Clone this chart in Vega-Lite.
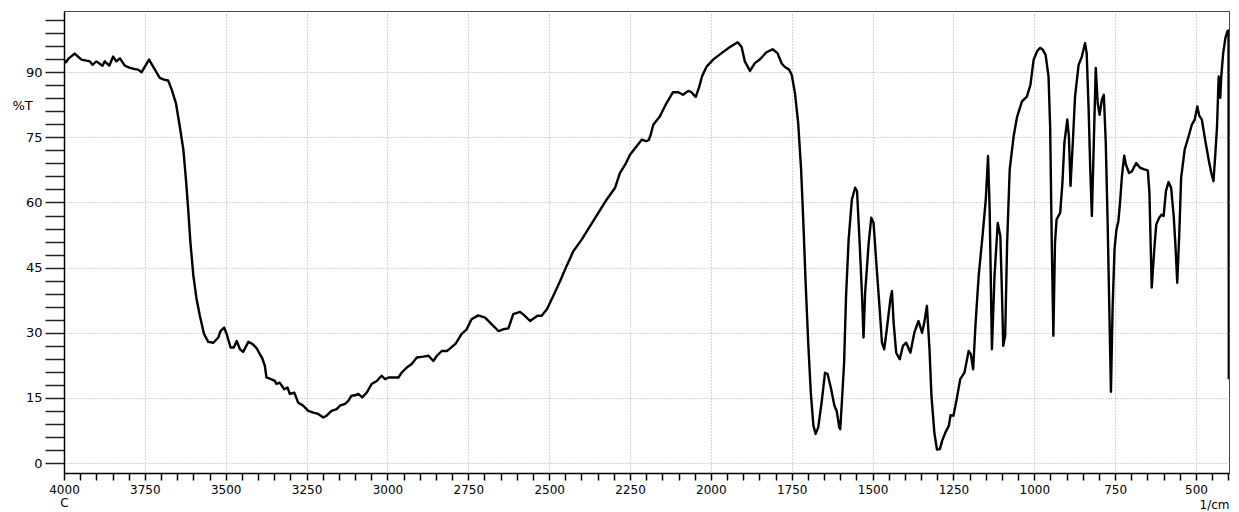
{
  "$schema": "https://vega.github.io/schema/vega-lite/v6.json",
  "autosize": {"type": "none"},
  "padding": {"left": 64, "top": 11, "right": 10, "bottom": 39},
  "width": 1165,
  "height": 462,
  "background": "white",
  "config": {"view": {"stroke": "#444", "strokeWidth": 1}, "font": "DejaVu Sans"},
  "data": {"values": [
    {"wn": 4000, "t": 92.9}, {"wn": 3994, "t": 92.3}, {"wn": 3985, "t": 93.2}, {"wn": 3967, "t": 94.3}, {"wn": 3946, "t": 92.9},
    {"wn": 3920, "t": 92.5}, {"wn": 3912, "t": 91.7}, {"wn": 3900, "t": 92.5}, {"wn": 3881, "t": 91.5}, {"wn": 3874, "t": 92.5},
    {"wn": 3860, "t": 91.5}, {"wn": 3848, "t": 93.6}, {"wn": 3838, "t": 92.5}, {"wn": 3827, "t": 93.2}, {"wn": 3812, "t": 91.5},
    {"wn": 3796, "t": 91.0}, {"wn": 3781, "t": 90.7}, {"wn": 3771, "t": 90.6}, {"wn": 3760, "t": 90.0}, {"wn": 3737, "t": 92.9},
    {"wn": 3719, "t": 90.6}, {"wn": 3704, "t": 88.7}, {"wn": 3691, "t": 88.3}, {"wn": 3678, "t": 88.1}, {"wn": 3667, "t": 86.0},
    {"wn": 3654, "t": 82.9}, {"wn": 3642, "t": 77.5}, {"wn": 3631, "t": 72.2}, {"wn": 3623, "t": 65.3}, {"wn": 3616, "t": 58.4},
    {"wn": 3609, "t": 50.7}, {"wn": 3600, "t": 43.1}, {"wn": 3590, "t": 37.7}, {"wn": 3580, "t": 33.9}, {"wn": 3567, "t": 29.7},
    {"wn": 3554, "t": 27.9}, {"wn": 3538, "t": 27.7}, {"wn": 3523, "t": 28.9}, {"wn": 3516, "t": 30.4}, {"wn": 3505, "t": 31.2},
    {"wn": 3497, "t": 29.7}, {"wn": 3485, "t": 26.6}, {"wn": 3475, "t": 26.6}, {"wn": 3466, "t": 28.1}, {"wn": 3456, "t": 26.2},
    {"wn": 3446, "t": 25.6}, {"wn": 3430, "t": 27.9}, {"wn": 3417, "t": 27.4}, {"wn": 3404, "t": 26.4}, {"wn": 3394, "t": 25.0},
    {"wn": 3388, "t": 24.3}, {"wn": 3379, "t": 22.4}, {"wn": 3374, "t": 19.7}, {"wn": 3360, "t": 19.3}, {"wn": 3348, "t": 18.9},
    {"wn": 3343, "t": 18.2}, {"wn": 3333, "t": 18.5}, {"wn": 3319, "t": 17.0}, {"wn": 3309, "t": 17.4}, {"wn": 3302, "t": 15.9},
    {"wn": 3288, "t": 16.2}, {"wn": 3276, "t": 13.9}, {"wn": 3260, "t": 13.2}, {"wn": 3245, "t": 12.0}, {"wn": 3229, "t": 11.6},
    {"wn": 3214, "t": 11.3}, {"wn": 3198, "t": 10.5}, {"wn": 3188, "t": 10.9}, {"wn": 3173, "t": 12.0}, {"wn": 3157, "t": 12.4},
    {"wn": 3147, "t": 13.2}, {"wn": 3131, "t": 13.6}, {"wn": 3121, "t": 14.3}, {"wn": 3111, "t": 15.5}, {"wn": 3100, "t": 15.6},
    {"wn": 3090, "t": 15.9}, {"wn": 3078, "t": 15.1}, {"wn": 3064, "t": 16.2}, {"wn": 3049, "t": 18.2}, {"wn": 3033, "t": 18.9},
    {"wn": 3018, "t": 20.1}, {"wn": 3007, "t": 19.3}, {"wn": 2997, "t": 19.7}, {"wn": 2966, "t": 19.7}, {"wn": 2956, "t": 20.8},
    {"wn": 2940, "t": 22.0}, {"wn": 2925, "t": 22.8}, {"wn": 2909, "t": 24.3}, {"wn": 2889, "t": 24.5}, {"wn": 2873, "t": 24.7},
    {"wn": 2858, "t": 23.5}, {"wn": 2847, "t": 24.7}, {"wn": 2832, "t": 25.8}, {"wn": 2816, "t": 25.8}, {"wn": 2806, "t": 26.4},
    {"wn": 2789, "t": 27.5}, {"wn": 2771, "t": 29.7}, {"wn": 2755, "t": 30.8}, {"wn": 2740, "t": 33.1}, {"wn": 2719, "t": 34.0},
    {"wn": 2698, "t": 33.5}, {"wn": 2678, "t": 32.0}, {"wn": 2657, "t": 30.4}, {"wn": 2642, "t": 30.8}, {"wn": 2626, "t": 31.0},
    {"wn": 2611, "t": 34.3}, {"wn": 2590, "t": 34.8}, {"wn": 2575, "t": 33.9}, {"wn": 2559, "t": 32.7}, {"wn": 2536, "t": 33.9},
    {"wn": 2523, "t": 33.9}, {"wn": 2507, "t": 35.4}, {"wn": 2487, "t": 38.5}, {"wn": 2466, "t": 41.9}, {"wn": 2446, "t": 45.4},
    {"wn": 2425, "t": 48.8}, {"wn": 2399, "t": 51.5}, {"wn": 2373, "t": 54.6}, {"wn": 2348, "t": 57.6}, {"wn": 2322, "t": 60.7},
    {"wn": 2296, "t": 63.4}, {"wn": 2281, "t": 66.8}, {"wn": 2265, "t": 68.7}, {"wn": 2250, "t": 71.0}, {"wn": 2229, "t": 73.0},
    {"wn": 2213, "t": 74.5}, {"wn": 2200, "t": 74.1}, {"wn": 2192, "t": 74.4}, {"wn": 2186, "t": 75.6}, {"wn": 2178, "t": 77.9},
    {"wn": 2158, "t": 79.8}, {"wn": 2137, "t": 82.9}, {"wn": 2117, "t": 85.4}, {"wn": 2101, "t": 85.4}, {"wn": 2086, "t": 84.8},
    {"wn": 2070, "t": 85.7}, {"wn": 2060, "t": 85.4}, {"wn": 2047, "t": 84.3}, {"wn": 2037, "t": 86.4}, {"wn": 2027, "t": 89.1},
    {"wn": 2013, "t": 91.3}, {"wn": 1993, "t": 92.9}, {"wn": 1967, "t": 94.4}, {"wn": 1941, "t": 95.8}, {"wn": 1917, "t": 96.9},
    {"wn": 1905, "t": 95.8}, {"wn": 1895, "t": 92.5}, {"wn": 1879, "t": 90.3}, {"wn": 1864, "t": 92.1}, {"wn": 1848, "t": 93.0},
    {"wn": 1828, "t": 94.6}, {"wn": 1809, "t": 95.3}, {"wn": 1794, "t": 94.4}, {"wn": 1781, "t": 92.0}, {"wn": 1771, "t": 91.2},
    {"wn": 1758, "t": 90.6}, {"wn": 1750, "t": 89.4}, {"wn": 1740, "t": 85.2}, {"wn": 1730, "t": 78.3}, {"wn": 1721, "t": 67.6},
    {"wn": 1714, "t": 55.3}, {"wn": 1707, "t": 41.5}, {"wn": 1699, "t": 27.7}, {"wn": 1691, "t": 16.2}, {"wn": 1683, "t": 8.6},
    {"wn": 1676, "t": 6.7}, {"wn": 1668, "t": 8.2}, {"wn": 1657, "t": 14.3}, {"wn": 1647, "t": 20.8}, {"wn": 1639, "t": 20.5},
    {"wn": 1628, "t": 17.0}, {"wn": 1618, "t": 13.2}, {"wn": 1611, "t": 12.0}, {"wn": 1603, "t": 8.2}, {"wn": 1600, "t": 7.8},
    {"wn": 1595, "t": 14.0}, {"wn": 1588, "t": 23.1}, {"wn": 1582, "t": 38.5}, {"wn": 1574, "t": 51.5}, {"wn": 1564, "t": 60.7},
    {"wn": 1554, "t": 63.4}, {"wn": 1548, "t": 62.6}, {"wn": 1540, "t": 50.7}, {"wn": 1533, "t": 39.2}, {"wn": 1528, "t": 28.9},
    {"wn": 1523, "t": 39.2}, {"wn": 1512, "t": 50.7}, {"wn": 1504, "t": 56.5}, {"wn": 1497, "t": 55.3}, {"wn": 1487, "t": 44.6},
    {"wn": 1478, "t": 35.4}, {"wn": 1471, "t": 27.7}, {"wn": 1464, "t": 26.2}, {"wn": 1456, "t": 30.8}, {"wn": 1445, "t": 37.7},
    {"wn": 1440, "t": 39.6}, {"wn": 1435, "t": 32.4}, {"wn": 1427, "t": 25.4}, {"wn": 1416, "t": 23.9}, {"wn": 1406, "t": 27.0},
    {"wn": 1396, "t": 27.7}, {"wn": 1383, "t": 25.4}, {"wn": 1371, "t": 30.0}, {"wn": 1358, "t": 32.7}, {"wn": 1347, "t": 30.0},
    {"wn": 1340, "t": 32.4}, {"wn": 1332, "t": 36.2}, {"wn": 1324, "t": 26.2}, {"wn": 1318, "t": 15.5}, {"wn": 1309, "t": 7.0},
    {"wn": 1301, "t": 3.1}, {"wn": 1292, "t": 3.2}, {"wn": 1285, "t": 5.1}, {"wn": 1275, "t": 7.0}, {"wn": 1264, "t": 8.6},
    {"wn": 1259, "t": 11.0}, {"wn": 1250, "t": 10.9}, {"wn": 1241, "t": 14.3}, {"wn": 1229, "t": 19.3}, {"wn": 1216, "t": 20.8},
    {"wn": 1203, "t": 25.8}, {"wn": 1196, "t": 25.0}, {"wn": 1189, "t": 21.6}, {"wn": 1182, "t": 31.6}, {"wn": 1172, "t": 43.1},
    {"wn": 1159, "t": 53.1}, {"wn": 1150, "t": 60.7}, {"wn": 1143, "t": 70.7}, {"wn": 1138, "t": 58.4}, {"wn": 1131, "t": 26.2},
    {"wn": 1123, "t": 43.1}, {"wn": 1113, "t": 55.3}, {"wn": 1105, "t": 52.3}, {"wn": 1100, "t": 39.2}, {"wn": 1096, "t": 27.0},
    {"wn": 1090, "t": 29.3}, {"wn": 1084, "t": 50.7}, {"wn": 1076, "t": 67.6}, {"wn": 1064, "t": 75.2}, {"wn": 1053, "t": 79.8},
    {"wn": 1038, "t": 83.3}, {"wn": 1023, "t": 84.4}, {"wn": 1012, "t": 87.1}, {"wn": 1002, "t": 92.9}, {"wn": 990, "t": 95.0},
    {"wn": 982, "t": 95.6}, {"wn": 975, "t": 95.3}, {"wn": 965, "t": 94.0}, {"wn": 956, "t": 89.0}, {"wn": 951, "t": 77.5},
    {"wn": 946, "t": 50.7}, {"wn": 941, "t": 29.3}, {"wn": 936, "t": 50.7}, {"wn": 931, "t": 56.1}, {"wn": 920, "t": 57.6},
    {"wn": 913, "t": 64.5}, {"wn": 907, "t": 73.7}, {"wn": 898, "t": 79.1}, {"wn": 893, "t": 75.2}, {"wn": 888, "t": 63.8},
    {"wn": 881, "t": 73.7}, {"wn": 874, "t": 84.4}, {"wn": 863, "t": 91.7}, {"wn": 853, "t": 93.6}, {"wn": 843, "t": 96.7},
    {"wn": 838, "t": 94.4}, {"wn": 832, "t": 81.4}, {"wn": 827, "t": 67.7}, {"wn": 822, "t": 56.9}, {"wn": 816, "t": 73.7},
    {"wn": 810, "t": 91.0}, {"wn": 804, "t": 82.9}, {"wn": 798, "t": 80.2}, {"wn": 791, "t": 83.7}, {"wn": 785, "t": 84.8},
    {"wn": 779, "t": 73.7}, {"wn": 773, "t": 54.6}, {"wn": 768, "t": 35.4}, {"wn": 763, "t": 16.4}, {"wn": 758, "t": 35.4},
    {"wn": 752, "t": 49.2}, {"wn": 746, "t": 53.8}, {"wn": 740, "t": 55.7}, {"wn": 735, "t": 59.9}, {"wn": 729, "t": 66.1},
    {"wn": 722, "t": 70.8}, {"wn": 717, "t": 68.8}, {"wn": 707, "t": 66.8}, {"wn": 698, "t": 67.2}, {"wn": 685, "t": 69.1},
    {"wn": 673, "t": 68.0}, {"wn": 662, "t": 67.7}, {"wn": 649, "t": 67.4}, {"wn": 644, "t": 62.2}, {"wn": 637, "t": 40.4},
    {"wn": 629, "t": 49.2}, {"wn": 623, "t": 54.9}, {"wn": 614, "t": 56.5}, {"wn": 606, "t": 57.2}, {"wn": 600, "t": 56.9},
    {"wn": 593, "t": 62.6}, {"wn": 585, "t": 64.7}, {"wn": 577, "t": 63.4}, {"wn": 569, "t": 56.9}, {"wn": 564, "t": 50.7},
    {"wn": 558, "t": 41.5}, {"wn": 552, "t": 52.3}, {"wn": 546, "t": 65.7}, {"wn": 535, "t": 72.2}, {"wn": 523, "t": 75.2},
    {"wn": 513, "t": 77.9}, {"wn": 504, "t": 79.1}, {"wn": 496, "t": 82.1}, {"wn": 490, "t": 80.0}, {"wn": 482, "t": 79.1},
    {"wn": 477, "t": 76.8}, {"wn": 471, "t": 74.1}, {"wn": 461, "t": 69.9}, {"wn": 453, "t": 66.9}, {"wn": 446, "t": 64.9},
    {"wn": 440, "t": 71.5}, {"wn": 435, "t": 77.5}, {"wn": 430, "t": 89.0}, {"wn": 425, "t": 84.1}, {"wn": 422, "t": 89.0},
    {"wn": 416, "t": 94.4}, {"wn": 409, "t": 97.9}, {"wn": 403, "t": 99.4}, {"wn": 399.5, "t": 99.6}, {"wn": 398.5, "t": 19.3}
  ]},
  "mark": {"type": "line", "color": "black", "strokeWidth": 2.4, "strokeJoin": "round", "clip": true},
  "encoding": {
    "x": {
      "field": "wn", "type": "quantitative",
      "scale": {"domain": [398, 4000], "reverse": true, "nice": false, "zero": false},
      "axis": {
        "values": [4000,3950,3900,3850,3800,3750,3700,3650,3600,3550,3500,3450,3400,3350,3300,3250,3200,3150,3100,3050,3000,2950,2900,2850,2800,2750,2700,2650,2600,2550,2500,2450,2400,2350,2300,2250,2200,2150,2100,2050,2000,1950,1900,1850,1800,1750,1700,1650,1600,1550,1500,1450,1400,1350,1300,1250,1200,1150,1100,1050,1000,950,900,850,800,750,700,650,600,550,500,450,400],
        "format": "d",
        "labelExpr": "datum.value === 4000 ? ['4000', 'C'] : (datum.value % 250 === 0 ? datum.label : '')",
        "labelOverlap": false,
        "labelFlush": false,
        "labelFontSize": 12,
        "labelColor": "black",
        "labelPadding": 4,
        "labelLineHeight": 13,
        "tickSize": 7,
        "tickColor": "black",
        "tickWidth": 1.5,
        "encode": {"ticks": {"update": {"y2": {"signal": "(datum.value % 250 === 0) ? 7 : 4"}}}},
        "domainColor": "black",
        "domainWidth": 1.5,
        "grid": true,
        "gridDash": [1, 2],
        "gridColor": "#aaa",
        "gridOpacity": {"condition": {"test": "datum.value % 250 === 0", "value": 1}, "value": 0},
        "title": "1/cm",
        "titleFontSize": 12,
        "titleFontWeight": "normal",
        "titleColor": "black",
        "titleAnchor": "end",
        "titleAlign": "right",
        "titleBaseline": "alphabetic",
        "titleX": 1165,
        "titleY": 35
      }
    },
    "y": {
      "field": "t", "type": "quantitative",
      "scale": {"domain": [-2.3, 104.1], "nice": false, "zero": false},
      "axis": {
        "values": [0,3,6,9,12,15,18,21,24,27,30,33,36,39,42,45,48,51,54,57,60,63,66,69,72,75,78,81,84,87,90,93,96,99,102],
        "labelExpr": "datum.value % 15 === 0 ? datum.label : ''",
        "labelOverlap": false,
        "labelFlush": false,
        "labelFontSize": 13,
        "labelColor": "black",
        "labelPadding": 3,
        "tickSize": 19,
        "tickColor": "#222",
        "tickWidth": 1.5,
        "encode": {"ticks": {"update": {"x2": {"signal": "(datum.value % 15 === 0) ? -19 : -10"}}}},
        "domainColor": "black",
        "domainWidth": 1.5,
        "grid": true,
        "gridDash": [1, 2],
        "gridColor": "#aaa",
        "gridOpacity": {"condition": {"test": "datum.value % 15 === 0", "value": 1}, "value": 0},
        "title": "%T",
        "titleAngle": 0,
        "titleFontSize": 13,
        "titleFontWeight": "normal",
        "titleColor": "black",
        "titleAlign": "left",
        "titleBaseline": "middle",
        "titleX": -52,
        "titleY": 94
      }
    }
  }
}
